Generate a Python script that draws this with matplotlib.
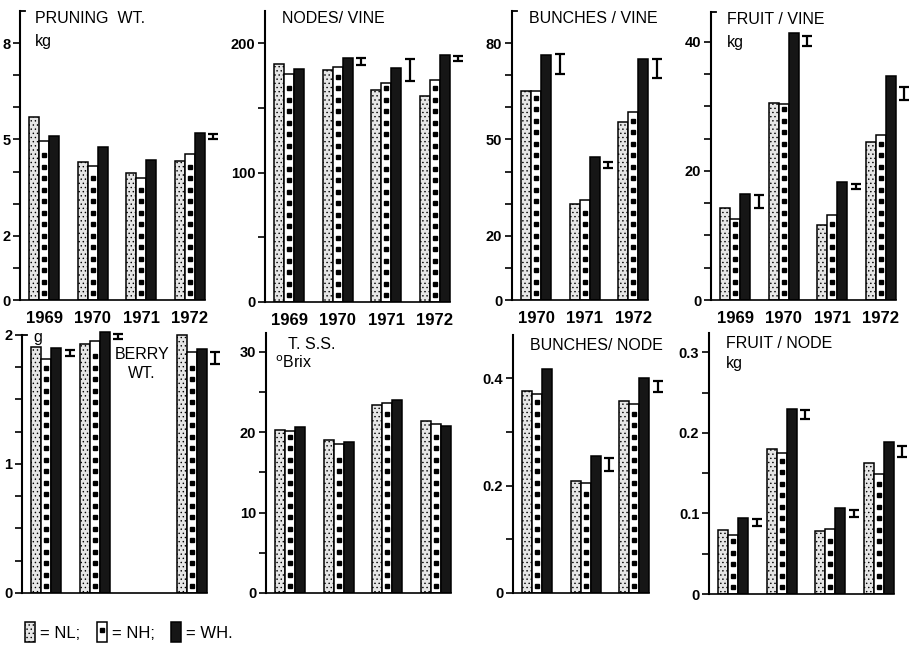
import numpy as np
import matplotlib
matplotlib.use("Agg")
import matplotlib.pyplot as plt
from matplotlib.patches import Rectangle
from matplotlib.lines import Line2D

YEARS = ["1969", "1970", "1971", "1972"]

# pruning weight per vine, kg
prune_years = ["1969", "1970", "1971", "1972"]
prune_nl = [5.7, 4.3, 3.95, 4.33]
prune_nh = [4.95, 4.17, 3.8, 4.55]
prune_wh = [5.1, 4.77, 4.36, 5.2]
prune_err_years = ["1972"]
prune_err_mid = [5.08]
prune_err_half = [0.08]

# nodes per vine
nodes_years = ["1969", "1970", "1971", "1972"]
nodes_nl = [184, 179, 164, 159]
nodes_nh = [176, 182, 169, 172]
nodes_wh = [180, 189, 181, 191]
nodes_err_years = ["1970", "1971", "1972"]
nodes_err_mid = [186, 179, 188]
nodes_err_half = [2.5, 8.5, 2.0]

# bunches per vine
bpv_years = ["1970", "1971", "1972"]
bpv_nl = [65, 30, 55.4]
bpv_nh = [65, 31, 58.6]
bpv_wh = [76.3, 44.5, 75]
bpv_err_years = ["1970", "1971", "1972"]
bpv_err_mid = [73.5, 42, 72]
bpv_err_half = [3.0, 1.0, 3.0]

# fruit per vine, kg
fpv_years = ["1969", "1970", "1971", "1972"]
fpv_nl = [14.3, 30.5, 11.6, 24.4]
fpv_nh = [12.6, 30.3, 13.1, 25.6]
fpv_wh = [16.4, 41.3, 18.3, 34.7]
fpv_err_years = ["1969", "1970", "1971", "1972"]
fpv_err_mid = [15.3, 40.1, 17.6, 32.0]
fpv_err_half = [1.0, 0.8, 0.35, 1.0]

# berry weight, g (no 1971 data)
berry_years = ["1969", "1970", "1972"]
berry_nl = [1.91, 1.93, 2.0]
berry_nh = [1.81, 1.95, 1.87]
berry_wh = [1.9, 2.02, 1.89]
berry_err_years = ["1969", "1970", "1972"]
berry_err_mid = [1.86, 1.99, 1.82]
berry_err_half = [0.025, 0.02, 0.045]

# total soluble solids, deg Brix
tss_years = ["1969", "1970", "1971", "1972"]
tss_nl = [20.2, 19.0, 23.3, 21.4]
tss_nh = [20.1, 18.5, 23.6, 21.0]
tss_wh = [20.6, 18.7, 24.0, 20.8]

# bunches per node
bpn_years = ["1970", "1971", "1972"]
bpn_nl = [0.376, 0.208, 0.357]
bpn_nh = [0.370, 0.205, 0.352]
bpn_wh = [0.417, 0.255, 0.40]
bpn_err_years = ["1971", "1972"]
bpn_err_mid = [0.239, 0.384]
bpn_err_half = [0.012, 0.01]

# fruit per node, kg
fpn_years = ["1969", "1970", "1971", "1972"]
fpn_nl = [0.079, 0.18, 0.078, 0.163]
fpn_nh = [0.073, 0.175, 0.081, 0.149]
fpn_wh = [0.094, 0.23, 0.107, 0.189]
fpn_err_years = ["1969", "1970", "1971", "1972"]
fpn_err_mid = [0.089, 0.223, 0.10, 0.177]
fpn_err_half = [0.004, 0.0055, 0.004, 0.007]

W, H = 909, 651
NUM_FONT = ["Liberation Sans Narrow", "Liberation Sans"]
TXT_FONT = ["Liberation Sans", "DejaVu Sans"]
BAR_W = 0.206
PX_PER_GROUP = 48.5
DOT_STEP_PX = 11.5

plt.rcParams["hatch.linewidth"] = 0.5


def make_axes(fig, left, base, top, xlo):
    width = (3.6 - xlo) * PX_PER_GROUP
    ax = fig.add_axes([left / W, (H - base) / H, width / W, (base - top) / H])
    ax.set_xlim(xlo, 3.6)
    return ax


def draw_panel(ax, years, nl, nh, wh, ymax, ticks, labels,
               err=None, show_years=True, bracket=False, spine_top=None):
    x = np.array([YEARS.index(y) for y in years], dtype=float)
    ax.set_ylim(0, ymax)
    height_px = ax.get_position().height * H

    ax.bar(x - BAR_W, nl, BAR_W, facecolor="#e6e6e6", edgecolor="black",
           linewidth=1.1, hatch="....", zorder=2)
    ax.bar(x, nh, BAR_W, facecolor="white", edgecolor="black",
           linewidth=1.1, zorder=2)
    ax.bar(x + BAR_W, wh, BAR_W, facecolor="#161616", edgecolor="black",
           linewidth=1.1, zorder=2)

    # column of square dots down the middle of each NH bar
    step = DOT_STEP_PX * ymax / height_px
    for xi, h in zip(x, nh):
        ys = np.arange(step * 0.6, h - step * 0.4, step)
        ax.plot(np.full_like(ys, xi), ys, ls="none", marker="s",
                ms=2.8, color="black", zorder=3)

    if err is not None:
        e_years, e_mid, e_half = err
        ex = np.array([YEARS.index(y) for y in e_years]) + 0.48
        ax.errorbar(ex, e_mid, yerr=e_half, fmt="none", ecolor="black",
                    elinewidth=1.6, capsize=3.5, capthick=1.6, zorder=3)

    for s in ("top", "right"):
        ax.spines[s].set_visible(False)
    ax.spines["left"].set_linewidth(1.5)
    ax.spines["bottom"].set_linewidth(1.2)
    top = ymax if spine_top is None else spine_top
    ax.spines["left"].set_bounds(0, top)
    ax.spines["bottom"].set_bounds(ax.get_xlim()[0], x.max() + 1.5 * BAR_W)
    if bracket:
        xl = ax.get_xlim()[0]
        ax.plot([xl, xl + 0.1], [top, top], color="black", lw=1.3,
                clip_on=False)

    ax.set_yticks(ticks)
    ax.set_yticklabels(labels, fontfamily=NUM_FONT, fontweight="bold",
                       fontsize=10.5)
    ax.tick_params(axis="y", direction="out", length=5, width=1.2, pad=2)

    if show_years:
        ax.set_xticks(x)
        ax.set_xticklabels(years, fontfamily=NUM_FONT, fontweight="bold",
                           fontsize=12)
        ax.tick_params(axis="x", length=0, pad=8)
    else:
        ax.set_xticks([])
    ax.patch.set_visible(False)


def label(ax, xfrac, yfrac, text, size=11.5, ha="left"):
    ax.text(xfrac, yfrac, text, transform=ax.transAxes, ha=ha, va="center",
            fontsize=size, fontfamily=TXT_FONT, zorder=5)


fig = plt.figure(figsize=(W / 100, H / 100), dpi=100)

# top row
ax1 = make_axes(fig, 20, 300, 11, -0.5)
draw_panel(ax1, prune_years, prune_nl, prune_nh, prune_wh, 9.0,
           list(range(0, 9)), ["0", "", "2", "", "", "5", "", "", "8"],
           err=(prune_err_years, prune_err_mid, prune_err_half), bracket=True)
label(ax1, 0.075, 0.975, "PRUNING  WT.")
label(ax1, 0.075, 0.895, "kg")

ax2 = make_axes(fig, 265, 302, 11, -0.5)
draw_panel(ax2, nodes_years, nodes_nl, nodes_nh, nodes_wh, 225,
           [0, 50, 100, 150, 200], ["0", "", "100", "", "200"],
           err=(nodes_err_years, nodes_err_mid, nodes_err_half))
label(ax2, 0.085, 0.975, "NODES/ VINE")

ax3 = make_axes(fig, 512, 300, 11, 0.5)
draw_panel(ax3, bpv_years, bpv_nl, bpv_nh, bpv_wh, 90,
           list(range(0, 90, 10)),
           ["0", "", "20", "", "", "50", "", "", "80"],
           err=(bpv_err_years, bpv_err_mid, bpv_err_half), bracket=True)
label(ax3, 0.11, 0.975, "BUNCHES / VINE")

ax4 = make_axes(fig, 711, 300, 12, -0.5)
draw_panel(ax4, fpv_years, fpv_nl, fpv_nh, fpv_wh, 44.6,
           list(range(0, 45, 5)),
           ["0", "", "", "", "20", "", "", "", "40"],
           err=(fpv_err_years, fpv_err_mid, fpv_err_half), bracket=True)
label(ax4, 0.08, 0.975, "FRUIT / VINE")
label(ax4, 0.08, 0.895, "kg")

# bottom row
ax5 = make_axes(fig, 22, 593, 328.5, -0.5)
draw_panel(ax5, berry_years, berry_nl, berry_nh, berry_wh, 2.05,
           np.arange(0, 2.01, 0.25),
           ["0", "", "", "", "1", "", "", "", "2"],
           err=(berry_err_years, berry_err_mid, berry_err_half),
           show_years=False, bracket=True, spine_top=2.0)
label(ax5, 0.055, 0.965, "g")
label(ax5, 0.605, 0.9, "BERRY", ha="center")
label(ax5, 0.60, 0.83, "WT.", ha="center")

ax6 = make_axes(fig, 266, 593, 333, -0.5)
draw_panel(ax6, tss_years, tss_nl, tss_nh, tss_wh, 32.3,
           list(range(0, 31, 5)), ["0", "", "10", "", "20", "", "30"],
           show_years=False)
label(ax6, 0.11, 0.955, "T. S.S.")
label(ax6, 0.045, 0.885, r"$^{\mathrm{o}}$Brix")

ax7 = make_axes(fig, 513, 593, 335, 0.5)
draw_panel(ax7, bpn_years, bpn_nl, bpn_nh, bpn_wh, 0.48,
           [0, 0.1, 0.2, 0.3, 0.4], ["0", "", "0.2", "", "0.4"],
           err=(bpn_err_years, bpn_err_mid, bpn_err_half), show_years=False)
label(ax7, 0.11, 0.96, "BUNCHES/ NODE")

ax8 = make_axes(fig, 709, 594, 333, -0.5)
draw_panel(ax8, fpn_years, fpn_nl, fpn_nh, fpn_wh, 0.324,
           np.arange(0, 0.301, 0.05), ["0", "", "0.1", "", "0.2", "", "0.3"],
           err=(fpn_err_years, fpn_err_mid, fpn_err_half), show_years=False)
label(ax8, 0.085, 0.96, "FRUIT / NODE")
label(ax8, 0.085, 0.885, "kg")

# key to the three treatments
nl_key = Rectangle((0, 0), 1, 1, facecolor="#e6e6e6", edgecolor="black",
                   hatch="....", linewidth=1.1)
nh_key = (Rectangle((0, 0), 1, 1, facecolor="white", edgecolor="black",
                    linewidth=1.1),
          Line2D([], [], ls="none", marker="s", ms=2.8, color="black"))
wh_key = Rectangle((0, 0), 1, 1, facecolor="#161616", edgecolor="black",
                   linewidth=1.1)
fig.legend([nl_key, nh_key, wh_key], ["= NL;", "= NH;", "= WH."],
           loc="center left", bbox_to_anchor=(10 / W, 1 - 632 / H), ncol=3,
           frameon=False, handlelength=0.6, handleheight=1.5,
           handletextpad=0.3, columnspacing=1.0, numpoints=1,
           prop={"family": TXT_FONT, "size": 12})

fig.savefig("out.png", dpi=100)
